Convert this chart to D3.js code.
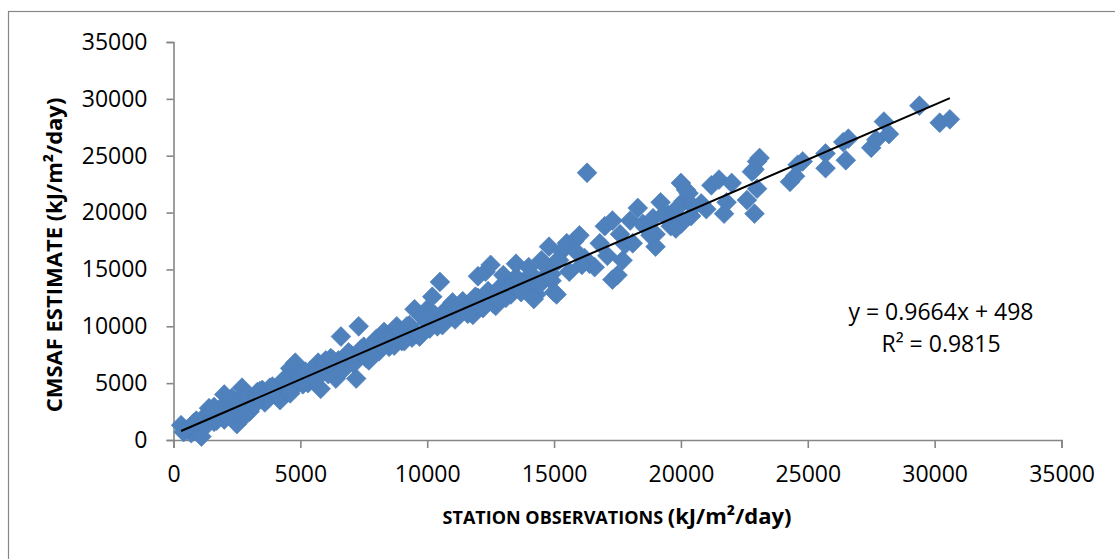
<!DOCTYPE html>
<html>
<head>
<meta charset="utf-8">
<script src="https://cdn.jsdelivr.net/npm/d3@7"></script>
<style>
  body { margin: 0; background: #fff; }
  text { font-family: "Open Sans", sans-serif; fill: #000; }
</style>
</head>
<body>
<div id="chart"></div>
<script>
// Station observations (x) and CMSAF estimates (y), kJ/m2/day
var obsX = [300, 500, 700, 800, 1000, 1100, 1200, 1400, 1600, 1800, 2000, 2000, 2200, 2300, 2500, 2600, 2700, 2800, 3000, 3100,
    3300, 3500, 3600, 3800, 4000, 4200, 4300, 4500, 4600, 4800, 5000, 5300, 5500, 5700, 5800, 6000, 6200, 6400, 6500, 6600,
    6800, 7000, 7200, 7300, 7500, 7800, 8000, 8300, 8500, 8600, 8800, 9000, 9200, 9400, 9500, 9800, 10000, 10000, 10200, 10400,
    10500, 10800, 11000, 11200, 11500, 11800, 12000, 12000, 12300, 12500, 12700, 13000, 13300, 13500, 13800, 14000, 14300, 14300, 14500, 14600,
    14800, 15000, 15300, 15500, 15800, 16000, 16200, 16300, 16600, 17000, 17300, 17300, 17500, 17700, 17800, 18000, 18300, 18600, 19000, 19000,
    18900, 19200, 19500, 19700, 20100, 20300, 20000, 20200, 21000, 21200, 21500, 21700, 21800, 22000, 22600, 22800, 22900, 22900, 23000, 23000,
    23100, 24300, 24500, 24600, 24800, 25700, 25700, 26400, 26500, 26600, 27500, 27700, 28000, 28200, 29400, 30200, 30600,
    400, 900, 1300, 1500, 1700, 1900, 2100, 2400, 2600, 2900, 3200, 3400, 3700, 3900, 4100, 4400, 4700, 4900, 5100, 5400,
    5600, 5900, 6100, 6300, 6700, 6900, 7100, 7400, 7600, 7900, 8100, 8400, 8700, 8900, 9100, 9300, 9600, 9900, 10100, 10300,
    10600, 10900, 11100, 11400, 11600, 11900, 12200, 12400, 12600, 12900, 13100, 13400, 13700, 14100, 14400, 14700, 14900, 15200, 15600, 15900,
    16400, 16800, 17100, 17600, 18100, 18500, 18800, 19300, 19600, 19900, 20400, 20500, 20800, 20000, 19800, 14200, 15000, 15100,
    1600, 2800, 3300, 4600, 5200, 6200, 7700, 8200, 9700, 10700, 11300, 12800, 13600, 14900, 16100];
var estY = [1300, 900, 600, 1500, 1100, 300, 2000, 2800, 1600, 2200, 4000, 1800, 2600, 3700, 1400, 3500, 4600, 4000, 2500, 3000,
    4200, 4400, 3300, 4600, 4300, 3500, 5200, 4200, 6300, 6800, 5700, 5000, 5800, 6800, 4500, 7000, 6500, 5400, 7000, 9100,
    6800, 7500, 5400, 10000, 8200, 7700, 8900, 9500, 8200, 9000, 10000, 8700, 10000, 9000, 11500, 10900, 10300, 11500, 12600, 10000,
    13900, 11600, 12100, 11300, 11900, 11000, 14400, 12500, 14800, 15400, 11800, 14500, 12800, 15500, 13400, 15200, 12800, 13900, 15800, 14300,
    17000, 15500, 16600, 17300, 17500, 18000, 16000, 23500, 15200, 18800, 14100, 19300, 14500, 15800, 17200, 19300, 20400, 18700, 18100, 17000,
    19500, 20900, 19800, 20000, 21000, 21700, 22600, 22000, 20300, 22400, 22900, 19900, 20900, 22600, 21100, 23600, 23800, 19900, 22100, 24500,
    24800, 22700, 23200, 24200, 24500, 25200, 23900, 26200, 24600, 26500, 25700, 26400, 28000, 26900, 29400, 27900, 28200,
    700, 1700, 1300, 2500, 1700, 2900, 2100, 3300, 2600, 3900, 3100, 4300, 3600, 4700, 3900, 5300, 4500, 5800, 4900, 6100,
    5300, 6600, 5800, 7000, 6200, 7700, 6700, 8000, 7200, 8600, 7800, 9100, 8300, 9600, 8700, 10100, 9300, 10600, 9800, 11000,
    10100, 11600, 10600, 12200, 11100, 12600, 11600, 13100, 12000, 13500, 12500, 14100, 13000, 14600, 13600, 15200, 14000, 15800, 14800, 16500,
    15500, 17300, 16200, 18100, 17300, 19000, 18000, 19800, 18800, 20500, 19700, 20500, 20800, 19000, 18600, 12400, 13000, 12800,
    2900, 2100, 3800, 4100, 6000, 7200, 7000, 8300, 9100, 10900, 11100, 12300, 14100, 14600, 15400];

var xTicks = [0, 5000, 10000, 15000, 20000, 25000, 30000, 35000];
var yTicks = [0, 5000, 10000, 15000, 20000, 25000, 30000, 35000];

// linear trendline reported on the chart
var slope = 0.9664, intercept = 498;
var eqLabel = "y = 0.9664x + 498";
var r2Label = "R² = 0.9815";

var w = 1115, h = 559;
var svg = d3.select("#chart").append("svg")
    .attr("width", w)
    .attr("height", h);

// outer chart border
svg.append("rect")
    .attr("x", 8.5).attr("y", 11.5)
    .attr("width", 1200).attr("height", 600)
    .attr("fill", "none")
    .attr("stroke", "#878787")
    .attr("stroke-width", 1.2);

var x = d3.scaleLinear().domain([0, 35000]).range([173.5, 1061.5]);
var y = d3.scaleLinear().domain([0, 35000]).range([440, 42]);

// axes
var xAxis = svg.append("g")
    .attr("transform", "translate(0,440)")
    .call(d3.axisBottom(x).tickValues(xTicks).tickFormat(d3.format("d")).tickSize(8).tickPadding(18));
var yAxis = svg.append("g")
    .attr("transform", "translate(173.5,0)")
    .call(d3.axisLeft(y).tickValues(yTicks).tickFormat(d3.format("d")).tickSize(7).tickPadding(19));

[xAxis, yAxis].forEach(function (g) {
    g.selectAll("path, line").attr("stroke", "#868686").attr("stroke-width", 1.6);
    g.selectAll("text").style("font-size", "23px").attr("fill", "#000");
});

// points
var pts = obsX.map(function (v, i) { return { x: v, y: estY[i] }; });
var diamond = d3.symbol().type(d3.symbolSquare).size(196);
svg.append("g").selectAll("path")
    .data(pts)
    .enter().append("path")
    .attr("d", diamond)
    .attr("transform", function (d) { return "translate(" + x(d.x) + "," + y(d.y) + ") rotate(45)"; })
    .attr("fill", "#4F81BD")
    .attr("stroke", "#4A7EBB")
    .attr("stroke-width", 0.6);

// trendline
var xMin = d3.min(obsX), xMax = d3.max(obsX);
svg.append("line")
    .attr("x1", x(xMin)).attr("y1", y(slope * xMin + intercept))
    .attr("x2", x(xMax)).attr("y2", y(slope * xMax + intercept))
    .attr("stroke", "#000")
    .attr("stroke-width", 2);

// equation
svg.append("text")
    .attr("x", 941).attr("y", 320)
    .attr("text-anchor", "middle")
    .style("font-size", "23px")
    .text(eqLabel);
svg.append("text")
    .attr("x", 941).attr("y", 352)
    .attr("text-anchor", "middle")
    .style("font-size", "23px")
    .text(r2Label);

// axis titles
var xt = svg.append("text")
    .attr("x", 617).attr("y", 524)
    .attr("text-anchor", "middle")
    .style("font-weight", "bold");
xt.append("tspan").style("font-size", "18px").text("STATION OBSERVATIONS ");
xt.append("tspan").style("font-size", "22px").text("(kJ/m²/day)");

svg.append("text")
    .attr("transform", "translate(62,255) rotate(-90)")
    .attr("text-anchor", "middle")
    .style("font-weight", "bold")
    .style("font-size", "22px")
    .text("CMSAF ESTIMATE (kJ/m²/day)");
</script>
</body>
</html>
